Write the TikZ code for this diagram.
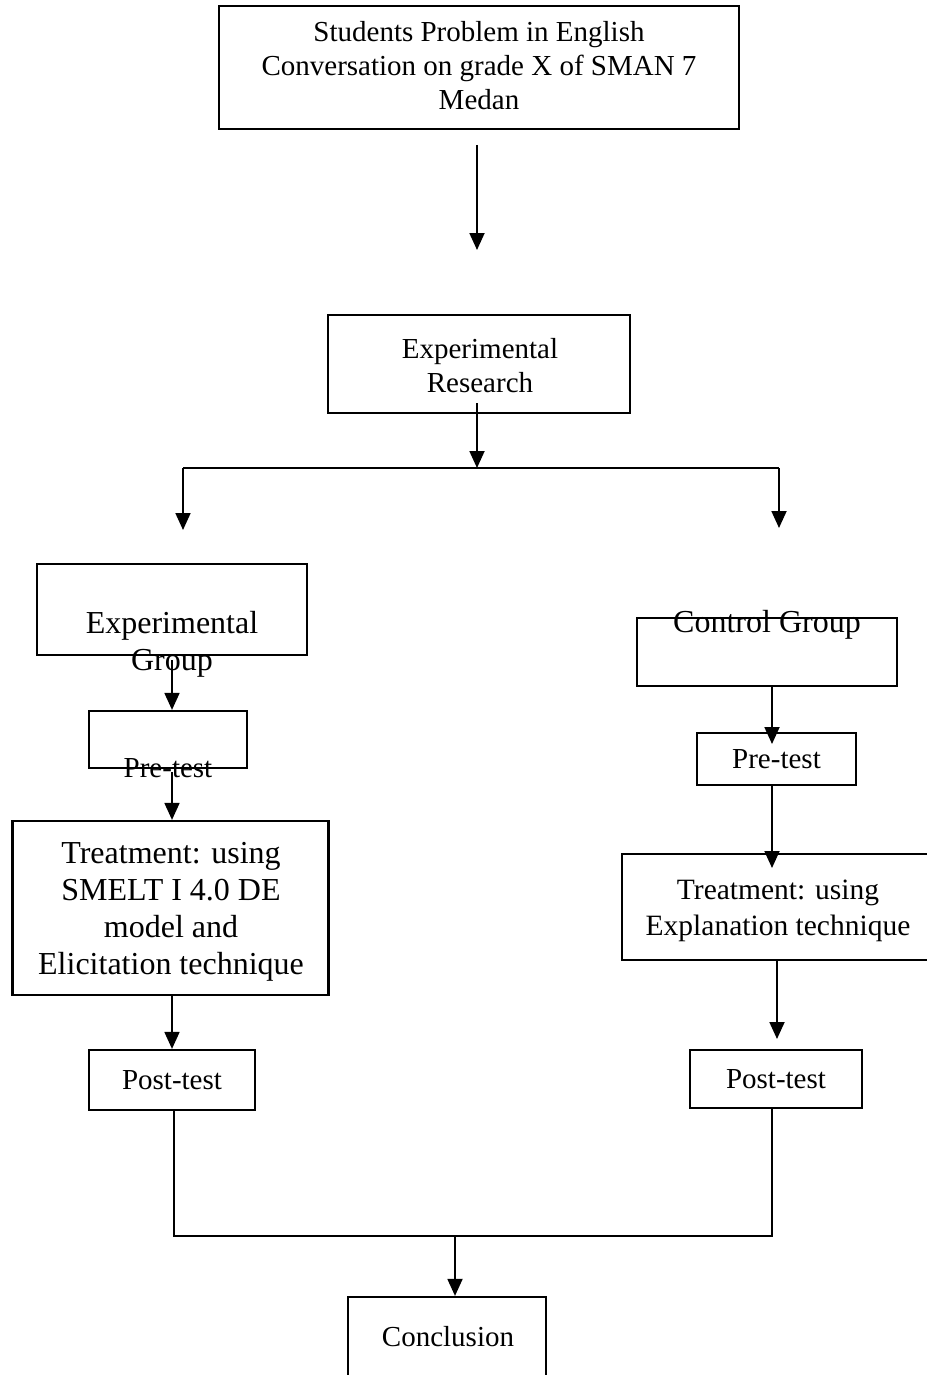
\documentclass[tikz,border=0pt]{standalone}
\usepackage{fontspec}
\setmainfont{Liberation Serif}
\usetikzlibrary{arrows.meta}
\begin{document}
\begin{tikzpicture}[x=1pt,y=-1pt,
  box/.style={draw, line width=2.2pt, inner sep=0pt, align=center, font=\fontsize{29}{34}\selectfont},
  bigbox/.style={box, font=\fontsize{32}{37}\selectfont},
  txt/.style={inner sep=0pt, align=center, font=\fontsize{29}{34}\selectfont},
  bigtxt/.style={txt, font=\fontsize{32}{37}\selectfont},
  arr/.style={line width=1.8pt, -{Triangle[length=17pt,width=15pt]}},
  ln/.style={line width=1.4pt}]
\useasboundingbox (0,0) rectangle (926,1375);

% top
\node[box, minimum width=520pt, minimum height=123pt] (prob) at (479,67.5) {};
\node[txt] (probt) at (479,65.5)
  {Students Problem in English\\Conversation on grade X of SMAN 7\\Medan};
\coordinate (a1s) at (477,145);
\coordinate (a1e) at (477,250);
\draw[arr] (a1s) -- (a1e);

% experimental research
\node[box, minimum width=302pt, minimum height=98pt] (res) at (479,364) {};
\node[txt] (rest) at (480,366) {Experimental\\Research};
\coordinate (r1) at (477,403);
\coordinate (split) at (477,468);
\draw[arr] (r1) -- (split);
\coordinate (sl) at (183,468);
\coordinate (sr) at (779,468);
\coordinate (sle) at (183,530);
\coordinate (sre) at (779,528);
\draw[ln, line width=1.8pt] (sl) -- (sr);
\draw[arr] (sl) -- (sle);
\draw[arr] (sr) -- (sre);

% left branch
\node[box, minimum width=270pt, minimum height=91pt] (eg) at (172,609.5) {};
\node[bigtxt] (egt) at (172,644) {Experimental\\Group};
\node[box, minimum width=158pt, minimum height=57pt] (pl) at (168,739.5) {};
\node[txt] (plt) at (168,768) {Pre-test};
\node[box, minimum width=316pt, minimum height=174pt] (tl) at (170.5,908) {};
\node[bigtxt] (tlt) at (171,912)
  {Treatment: using\\SMELT I 4.0 DE\\model and\\Elicitation technique};
\node[box, minimum width=166pt, minimum height=60pt] (pol) at (172,1080) {Post-test};

\coordinate (eg1) at (172,660);
\draw[arr] (eg1) -- (eg1 |- pl.north);
\coordinate (pl1) at (172,772);
\draw[arr] (pl1) -- (pl1 |- tl.north);
\draw[arr] (tl.south -| pol.north) -- (pol.north);

% right branch
\node[box, minimum width=260pt, minimum height=68pt] (cg) at (767,652) {};
\node[bigtxt] (cgt) at (767,625) {Control Group};
\node[box, minimum width=159pt, minimum height=52pt] (pr) at (776.5,759) {Pre-test};
\node[box, minimum width=308pt, minimum height=106pt] (tr) at (776,907) {};
\node[txt, font=\fontsize{29.5}{36}\selectfont] (trt) at (778,910.5)
  {Treatment: using\\Explanation technique};
\node[box, minimum width=172pt, minimum height=58pt] (por) at (776,1079) {Post-test};

\coordinate (cg1) at (772,686);
\coordinate (pr1) at (772,744);
\draw[arr] (cg1) -- (pr1);
\coordinate (pr2) at (772,785);
\coordinate (tr1) at (772,868);
\draw[arr] (pr2) -- (tr1);
\coordinate (tr2) at (777,960);
\coordinate (por1) at (777,1039);
\draw[arr] (tr2) -- (por1);

% merge
\coordinate (ml) at (174,1236);
\coordinate (mr) at (772,1236);
\coordinate (mm) at (455,1236);
\node[box, minimum width=198pt, minimum height=110pt] (con) at (447,1352) {};
\node[txt] (cont) at (448,1337) {Conclusion};
\draw[ln] (pol.south -| ml) -- (ml) -- (mr) -- (por.south -| mr);
\draw[arr] (mm) -- (mm |- con.north);
\end{tikzpicture}
\end{document}
